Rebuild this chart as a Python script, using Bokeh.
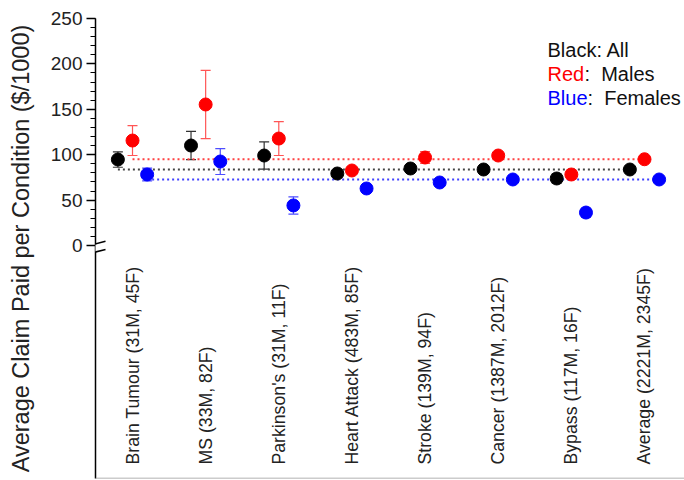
import numpy as np
from bokeh.plotting import figure
from bokeh.models import ColumnDataSource, Whisker, TeeHead, FixedTicker, Range1d, Span, Arrow
from bokeh.core.properties import value
from bokeh.embed import file_html
from bokeh.resources import INLINE

categories = [
    "Brain Tumour (31M, 45F)",
    "MS (33M, 82F)",
    "Parkinson's (31M, 11F)",
    "Heart Attack (483M, 85F)",
    "Stroke (139M, 94F)",
    "Cancer (1387M, 2012F)",
    "Bypass (117M, 16F)",
    "Average (2221M, 2345F)",
]
all_vals = [94.7, 110.1, 99.1, 79.3, 84.8, 83.7, 73.8, 83.7]
all_err = [8.5, 15.5, 15.0, 2.5, 3.0, 1.5, 5.0, 1.0]
male_vals = [115.6, 155.3, 117.8, 82.6, 96.9, 99.1, 78.2, 95.0]
male_err = [16.5, 37.5, 18.7, 3.0, 6.5, 2.0, 5.0, 1.5]
female_vals = [78.2, 92.5, 44.1, 62.8, 69.4, 72.7, 36.3, 72.7]
female_err = [7.0, 14.3, 9.5, 4.0, 4.0, 2.0, 5.0, 1.5]
y_ticks = [0, 50, 100, 150, 200, 250]
y_minor = list(range(0, 251, 10))
legend_keys = ["Black", "Red", "Blue"]
legend_rest = [": All", ":\u00a0 Males", ":\u00a0 Females"]

FONT = "Liberation Sans"
X0, X1 = -0.506, 7.547
Y0, Y1 = -256.6, 250

p = figure(width=684, height=480, x_range=Range1d(X0, X1), y_range=Range1d(Y0, Y1),
           output_backend="svg", toolbar_location=None, x_axis_location=None,
           min_border_left=95, min_border_right=0, min_border_top=18, min_border_bottom=2)
p.outline_line_color = None
p.grid.visible = False
p.background_fill_color = "white"

ax = p.yaxis[0]
ax.ticker = FixedTicker(ticks=y_ticks, minor_ticks=y_minor)
ax.axis_label = "Average Claim Paid per Condition ($/1000)"
ax.axis_label_text_font = FONT
ax.axis_label_text_font_size = "23.5px"
ax.axis_label_text_font_style = "normal"
ax.axis_label_text_color = "#222222"
ax.axis_label_standoff = 14
ax.major_label_text_font = FONT
ax.major_label_text_font_size = "19px"
ax.major_label_text_color = "#222222"
ax.major_label_standoff = 4
ax.major_tick_out = 9
ax.major_tick_in = 0
ax.minor_tick_out = 5
ax.minor_tick_in = 0
ax.axis_line_width = 1.5
ax.major_tick_line_width = 1.5
ax.minor_tick_line_width = 1

idx = np.arange(len(categories))
series = [
    (idx - 0.2, all_vals, all_err, "black", "#333333", "#444444"),
    (idx + 0.0, male_vals, male_err, "#ff0000", "#ff5555", "#ff4040"),
    (idx + 0.2, female_vals, female_err, "#0000ff", "#4d4dff", "#4040ff"),
]

for xs, vals, errs, col, ecol, dcol in series:
    v = np.array(vals)
    e = np.array(errs)
    src = ColumnDataSource(dict(x=xs, y=v, upper=v + e, lower=v - e))
    w = Whisker(source=src, base="x", upper="upper", lower="lower", dimension="height",
                line_color=ecol, line_width=1.2,
                upper_head=TeeHead(size=10, line_color=ecol, line_width=1.2),
                lower_head=TeeHead(size=10, line_color=ecol, line_width=1.2))
    w.level = "underlay"
    p.add_layout(w)
    p.line([xs[0], xs[-1]], [vals[-1], vals[-1]], line_dash="2 3", line_width=2, line_color=dcol)

for xs, vals, errs, col, ecol, dcol in series:
    p.scatter(xs, vals, size=13, fill_color=col, line_color=col)

# category labels
p.text(x=idx, y=[Y0 + 15.4] * len(categories), text=categories, angle=np.pi / 2,
       text_align="left", text_baseline="middle", text_font=value(FONT),
       text_font_size="17.7px", text_color="#222222")

# legend text
leg_y = [214.8, 189.4, 161.9]
leg_col = ["#111111", "#ff0000", "#0000ff"]
leg_off = [49, 37, 40]
for i in range(3):
    p.text(x=[5.674], y=[leg_y[i]], text=[legend_keys[i]], text_align="left", text_baseline="middle",
           text_font=value(FONT), text_font_size="20px", text_color=leg_col[i])
    p.text(x=[5.674 + leg_off[i] / 73.14], y=[leg_y[i]], text=[legend_rest[i]], text_align="left",
           text_baseline="middle", text_font=value(FONT), text_font_size="20px", text_color="#111111")

# bottom line
p.add_layout(Span(location=Y0, dimension="width", line_color="#999999", line_width=1.5))

# axis break
p.add_layout(Arrow(end=None, x_start=X0, y_start=1.0, x_end=X0, y_end=-6.5,
                   line_color="white", line_width=4))
p.add_layout(Arrow(end=None, x_start=-0.643, y_start=-1.1, x_end=-0.369, y_end=4.7,
                   line_color="black", line_width=1.5))
p.add_layout(Arrow(end=None, x_start=-0.643, y_start=-9.9, x_end=-0.369, y_end=-4.4,
                   line_color="black", line_width=1.5))

open("out.html", "w").write(file_html(p, INLINE))
